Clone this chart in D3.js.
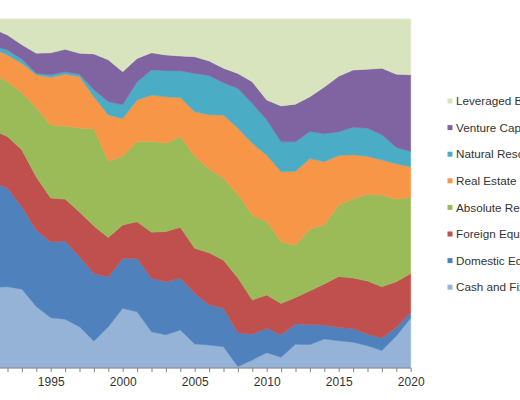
<!DOCTYPE html>
<html>
<head>
<meta charset="utf-8">
<script src="https://cdn.jsdelivr.net/npm/d3@7"></script>
<style>
  html, body { margin: 0; padding: 0; background: #fff; }
  svg { display: block; font-family: "Liberation Sans", Arial, sans-serif; }
</style>
</head>
<body>
<svg id="chart" width="520" height="400"></svg>
<script>
const years = [1991,1992,1993,1994,1995,1996,1997,1998,1999,2000,2001,2002,2003,2004,2005,2006,2007,2008,2009,2010,2011,2012,2013,2014,2015,2016,2017,2018,2019,2020];

const cashFixedIncome = [23.1,23.3,22.6,17.6,14.4,14.0,11.8,7.7,11.8,17.1,16.1,10.4,9.5,10.9,6.9,6.6,6.1,0.4,2.3,4.4,3.1,6.8,6.7,8.3,7.8,7.4,6.4,5.0,9.2,14.3];
const domesticEquity  = [30.2,28.2,23.6,21.9,21.7,22.4,20.1,19.4,14.3,14.3,15.3,15.3,15.2,14.8,14.5,11.5,11.0,9.7,7.4,7.0,6.4,5.8,5.8,4.0,3.8,3.9,3.3,3.6,2.4,1.7];
const foreignEquity   = [14.9,14.8,16.3,15.2,12.6,12.0,12.8,13.6,11.3,9.6,10.5,13.2,14.4,14.6,12.9,14.9,13.8,15.7,9.8,9.5,9.0,7.6,9.6,11.8,14.6,14.5,15.2,14.7,13.1,11.1];
const absoluteReturn  = [16.0,15.8,16.3,19.9,20.9,20.9,24.1,27.8,21.9,19.7,22.9,26.1,25.3,26.0,26.4,24.0,23.5,23.9,24.3,21.0,17.7,15.0,17.7,16.9,20.5,22.6,24.9,26.3,23.7,21.8];
const realEstate      = [7.3,7.6,8.5,9.4,13.7,14.9,14.7,9.2,13.2,10.8,12.0,13.2,13.3,11.2,12.7,15.6,18.1,19.0,20.6,19.1,20.0,21.2,20.2,18.1,14.2,12.7,10.9,10.0,10.1,8.8];
const naturalResources= [0.9,1.4,1.2,0.4,0.7,0.7,0.7,2.0,3.8,3.9,5.2,7.2,7.5,7.7,11.0,11.2,9.2,11.4,11.4,10.1,8.6,8.4,7.8,8.0,6.8,7.9,8.0,7.2,4.7,4.3];
const ventureCapital  = [4.8,4.3,4.1,5.8,6.3,6.4,6.0,10.3,12.0,9.5,6.7,4.9,4.5,4.2,4.8,4.2,4.2,4.3,6.2,5.7,10.3,10.8,9.9,13.4,15.9,16.4,16.9,19.1,21.0,22.0];
const leveragedBuyouts= [2.8,4.6,7.4,9.8,9.7,8.7,9.8,10.0,11.7,15.1,11.3,9.7,10.3,10.6,10.8,12.0,14.1,15.6,18.0,23.2,24.9,24.4,22.3,19.5,16.4,14.6,14.4,14.1,15.8,16.0];

const seriesNames = ["Cash and Fixed Income","Domestic Equity","Foreign Equity","Absolute Return","Real Estate","Natural Resources","Venture Capital","Leveraged Buyouts"];
const seriesValues = [cashFixedIncome, domesticEquity, foreignEquity, absoluteReturn, realEstate, naturalResources, ventureCapital, leveragedBuyouts];
const seriesColors = ["#95B3D7","#4F81BD","#C0504D","#9BBB59","#F79646","#4BACC6","#8064A2","#D7E4BD"];
const tickYears = years.concat([]);

const table = years.map((yr, i) => {
  const row = { year: yr };
  seriesNames.forEach((n, k) => { row[n] = seriesValues[k][i]; });
  return row;
});

const svg = d3.select("#chart");
const plotTop = 19, plotBottom = 368, plotRight = 410.7, yearStep = 14.4;

const x = d3.scaleLinear()
  .domain([1991, 2020])
  .range([plotRight - 29 * yearStep, plotRight]);
const y = d3.scaleLinear().domain([0, 1]).range([plotBottom, plotTop]);

const stack = d3.stack().keys(seriesNames).offset(d3.stackOffsetExpand);
const layers = stack(table);

const area = d3.area()
  .x(d => x(d.data.year))
  .y0(d => y(d[0]))
  .y1(d => y(d[1]));

svg.append("g").selectAll("path")
  .data(layers)
  .join("path")
  .attr("d", area)
  .attr("fill", (d, i) => seriesColors[i])
  .attr("stroke", (d, i) => seriesColors[i])
  .attr("stroke-width", 0.5);

const axis = d3.axisBottom(x)
  .tickValues(tickYears)
  .tickFormat(d => d % 5 === 0 ? String(d) : "")
  .tickSize(4)
  .tickSizeOuter(0);

const gAxis = svg.append("g")
  .attr("transform", `translate(0,${plotBottom})`)
  .call(axis);
gAxis.select(".domain").attr("stroke", "#868686").attr("d", `M${x(1991) - 20},0H${plotRight}`);
gAxis.selectAll(".tick line").attr("stroke", "#868686");
gAxis.selectAll(".tick text")
  .attr("y", 9)
  .attr("fill", "#333")
  .style("font-size", "12px")
  .style("font-family", "Liberation Sans, Arial, sans-serif");

// legend (top to bottom reversed stack order)
const legendOrder = seriesNames.map((n, i) => ({ name: n, color: seriesColors[i] })).reverse();
const lg = svg.append("g");
legendOrder.forEach((it, i) => {
  const cy = 101 + i * 26.6;
  lg.append("rect")
    .attr("x", 447.5).attr("y", cy - 2.5)
    .attr("width", 5).attr("height", 5)
    .attr("fill", it.color);
  lg.append("text")
    .attr("x", 456).attr("y", cy + 4.2)
    .attr("fill", "#333")
    .style("font-size", "11.7px")
    .text(it.name);
});
</script>
</body>
</html>
